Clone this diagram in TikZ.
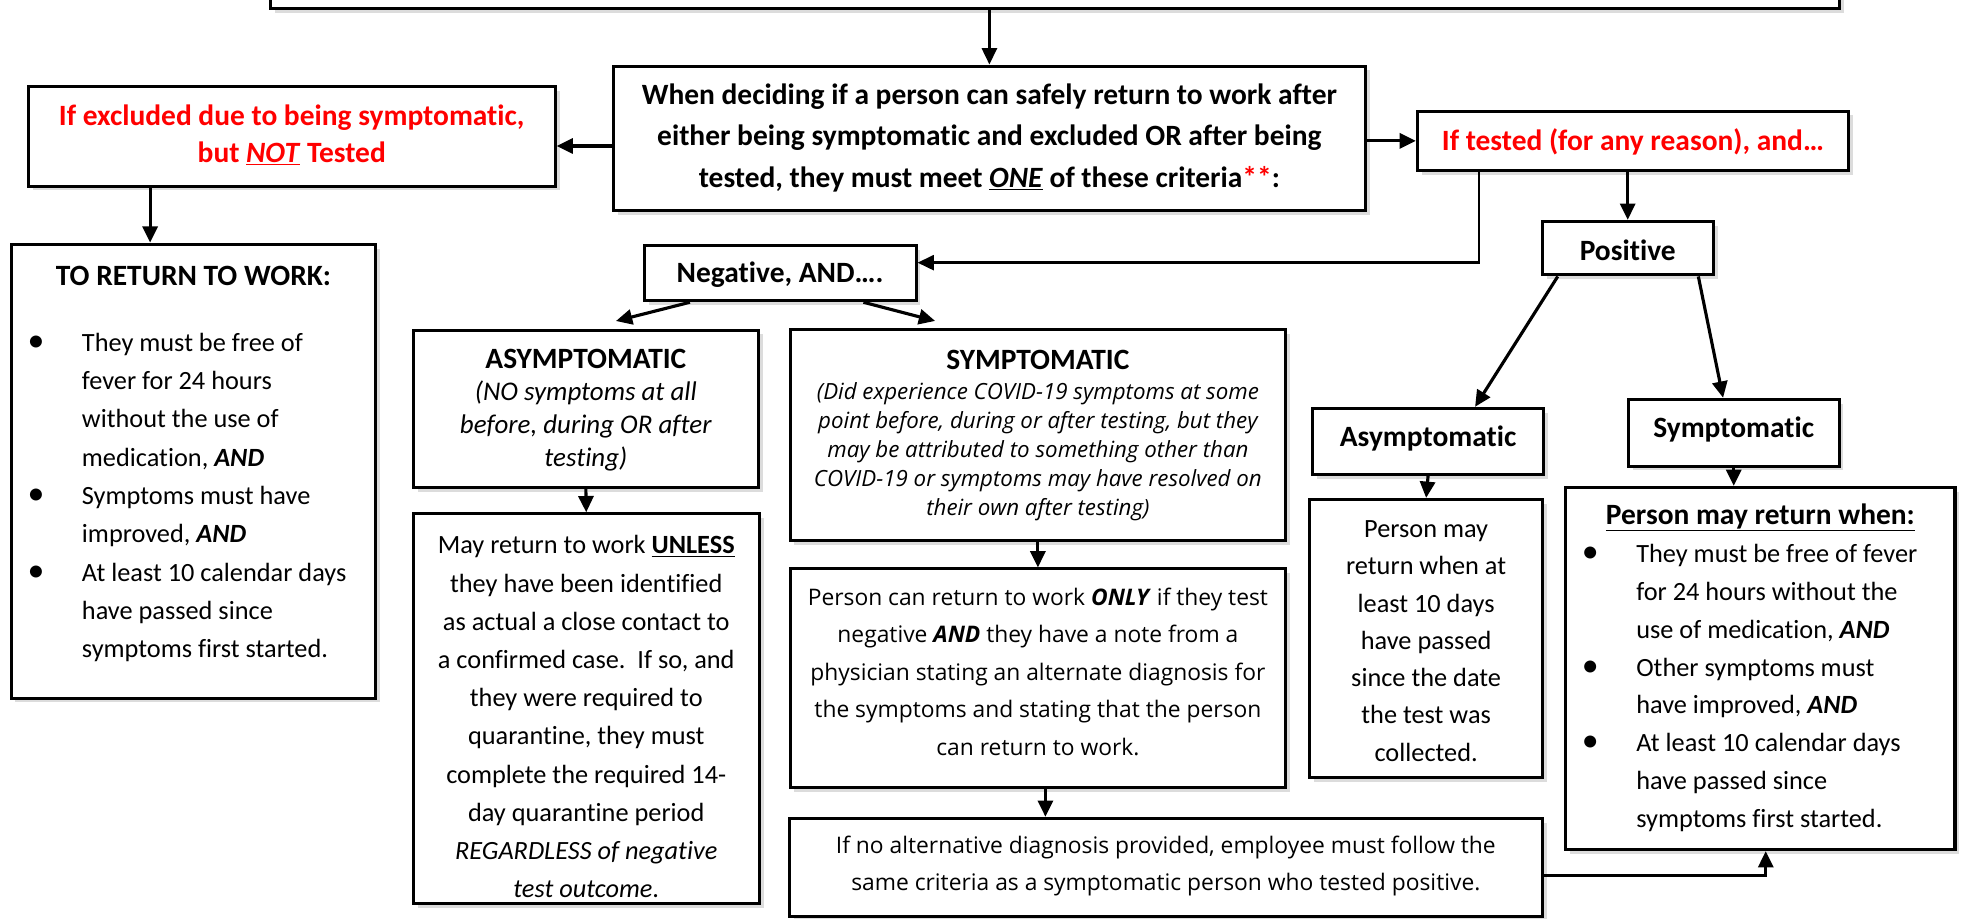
\documentclass[tikz,border=0pt]{standalone}
\usepackage{fontspec}
\setmainfont{Carlito}[RawFeature={-liga;-clig;-dlig;-calt}]
\newfontfamily\seg{Open Sans}[RawFeature={-liga;-clig;-dlig;-calt}]
\usetikzlibrary{arrows.meta,shadows,calc}
\definecolor{rd}{RGB}{255,0,0}
\newcommand{\blt}{\makebox[0pt][r]{{\fontsize{27}{0}\selectfont•}\hspace{30pt}}}
\begin{document}
\begin{tikzpicture}[x=1pt,y=-1pt,
 box/.style={draw=black, line width=2.4pt, fill=white, inner sep=0pt, drop shadow={shadow xshift=3.5pt, shadow yshift=-3.5pt, opacity=0.28}},
 arr/.style={line width=2.5pt, -{Triangle[length=13pt,width=12pt]}},
 arrthin/.style={line width=1.9pt, -{Triangle[length=13pt,width=12pt]}},
 txt/.style={inner sep=0pt, align=center},
 cal/.style={font={\fontsize{21}{30.5}\selectfont}},
 calb/.style={font={\fontsize{23.5}{33}\selectfont\bfseries}},
 segf/.style={font={\seg\fontsize{18.2}{30}\selectfont}},
]
\useasboundingbox (0,0) rectangle (1568,733);
\clip (0,0) rectangle (1568,733);
% boxes
\node[box, minimum width=1252, minimum height=47] (top) at (842,-16.5) {};
\node[box, minimum width=600, minimum height=115] (main) at (789.5,110.2) {};
\node[box, minimum width=420.4, minimum height=79.5] (excl) at (232.8,108.75) {};
\node[box, minimum width=291.2, minimum height=362.2] (toret) at (154.4,375.9) {};
\node[box, minimum width=344, minimum height=47.6] (tested) at (1303,112.4) {};
\node[box, minimum width=217, minimum height=44] (neg) at (622.5,218) {};
\node[box, minimum width=136.3, minimum height=42.8] (pos) at (1298.85,198) {};
\node[box, minimum width=275, minimum height=125.7] (asym) at (467.5,326.2) {};
\node[box, minimum width=276, minimum height=311] (mayret) at (467.8,565.5) {};
\node[box, minimum width=395.6, minimum height=167.7] (symp) at (828.2,347.15) {};
\node[box, minimum width=395.6, minimum height=174.4] (person) at (828.2,541.2) {};
\node[box, minimum width=600.6, minimum height=78] (ifno) at (930.3,692) {};
\node[box, minimum width=183.9, minimum height=52.7] (pasym) at (1139.55,352.15) {};
\node[box, minimum width=185.4, minimum height=222] (pmay) at (1138,509.5) {};
\node[box, minimum width=168.1, minimum height=53.3] (psymp) at (1383.45,345.25) {};
\node[box, minimum width=310.6, minimum height=289.1] (pmrw) at (1404.7,533.45) {};
% texts
\node[txt, calb] (mainT) at (789.5,110) {When deciding if a person can safely return to work after\\either being symptomatic and excluded OR after being\\tested, they must meet \underline{\textit{ONE}} of these criteria\textcolor{rd}{**}:};
\node[txt, text=rd, font={\fontsize{23.5}{29.4}\selectfont\bfseries}] (exclT) at (232.8,108) {If excluded due to being symptomatic,\\but \underline{\textit{NOT}} Tested};
\node[txt, calb] (toretH) at (154.4,220) {TO RETURN TO WORK:};
\node[txt, align=left, anchor=west, font={\fontsize{21}{30.6}\selectfont}] (toretT) at (65.2,397) {\blt They must be free of\\fever for 24 hours\\without the use of\\medication, \textbf{\textit{AND}}\\\blt Symptoms must have\\improved, \textbf{\textit{AND}}\\\blt At least 10 calendar days\\have passed since\\symptoms first started.};
\node[txt, calb, text=rd] (testedT) at (1303,113) {If tested (for any reason), and…};
\node[txt, calb] (negT) at (622.5,219.5) {Negative, AND….};
\node[txt, calb] (posT) at (1298.85,200) {Positive};
\node[txt, font={\fontsize{21.5}{26}\selectfont}] (asymT) at (467.5,327) {{\fontsize{23.5}{26}\selectfont\bfseries ASYMPTOMATIC}\\\textit{(NO symptoms at all}\\\textit{before, during OR after}\\\textit{testing)}};
\node[txt, cal] (mayretT) at (467.8,572) {May return to work \textbf{\underline{UNLESS}}\\they have been identified\\as actual a close contact to\\a confirmed case.\ \ If so, and\\they were required to\\quarantine, they must\\complete the required 14-\\day quarantine period\\\textit{REGARDLESS of negative}\\\textit{test outcome}.};
\node[txt, calb] (sympH) at (828.2,287.3) {SYMPTOMATIC};
\node[txt, font={\seg\itshape\fontsize{17.8}{23.3}\selectfont}] (sympT) at (828.2,360.5) {(Did experience COVID-19 symptoms at some\\point before, during or after testing, but they\\may be attributed to something other than\\COVID-19 or symptoms may have resolved on\\their own after testing)};
\node[txt, segf] (personT) at (828.2,536) {Person can return to work \textbf{\textit{ONLY}} if they test\\negative \textbf{\textit{AND}} they have a note from a\\physician stating an alternate diagnosis for\\the symptoms and stating that the person\\can return to work.};
\node[txt, segf] (ifnoT) at (930.3,691) {If no alternative diagnosis provided, employee must follow the\\same criteria as a symptomatic person who tested positive.};
\node[txt, calb] (pasymT) at (1139.55,350) {Asymptomatic};
\node[txt, calb] (psympT) at (1383.45,343) {Symptomatic};
\node[txt, font={\fontsize{21}{29.7}\selectfont}] (pmayT) at (1138,511.5) {Person may\\return when at\\least 10 days\\have passed\\since the date\\the test was\\collected.};
\node[txt, calb] (pmrwH) at (1404.7,412.8) {\underline{Person may return when:}};
\node[txt, align=left, anchor=west, font={\fontsize{21}{30.2}\selectfont}] (pmrwT) at (1305.5,549) {\blt They must be free of fever\\for 24 hours without the\\use of medication, \textbf{\textit{AND}}\\\blt Other symptoms must\\have improved, \textbf{\textit{AND}}\\\blt At least 10 calendar days\\have passed since\\symptoms first started.};
% connectors
\draw[arrthin] (main.north |- top.south) -- (main.north);
\coordinate (exE) at ([yshift=-7.75pt]excl.east);
\draw[arr] (main.west |- exE) -- (exE);
\draw[arr] (main.east |- tested.west) -- (tested.west);
\coordinate (exS) at ([xshift=-113pt]excl.south);
\draw[arr] (exS) -- (exS |- toret.north);
\coordinate (tb) at ([xshift=-122.8pt]tested.south);
\coordinate (nE) at ([yshift=8.4pt]neg.east);
\draw[arrthin] (tb) |- (nE);
\draw[arr] (pos.north |- tested.south) -- (pos.north);
\draw[arr] ([xshift=-72pt]neg.south) -- ([xshift=24pt,yshift=6pt]asym.north);
\draw[arr] ([xshift=66.5pt]neg.south) -- ([xshift=-82pt,yshift=6pt]symp.north);
\draw[arr] ([xshift=-55.85pt]pos.south) -- ([xshift=37.5pt]pasym.north);
\draw[arr] ([xshift=56.35pt]pos.south) -- ([xshift=-8.5pt]psymp.north);
\draw[arr] (asym.south) -- (mayret.north);
\draw[arr] (symp.south) -- (person.north);
\coordinate (pS) at ([xshift=6pt]person.south);
\draw[arr] (pS) -- (pS |- ifno.north);
\draw[arr] (pasym.south) -- (pmay.north);
\draw[arr] (psymp.south) -- (psymp.south |- pmrw.north);
\coordinate (iE) at ([yshift=-6.8pt]ifno.east);
\draw[arr] (iE) -| ([xshift=4.3pt]pmrw.south);
\end{tikzpicture}
\end{document}
